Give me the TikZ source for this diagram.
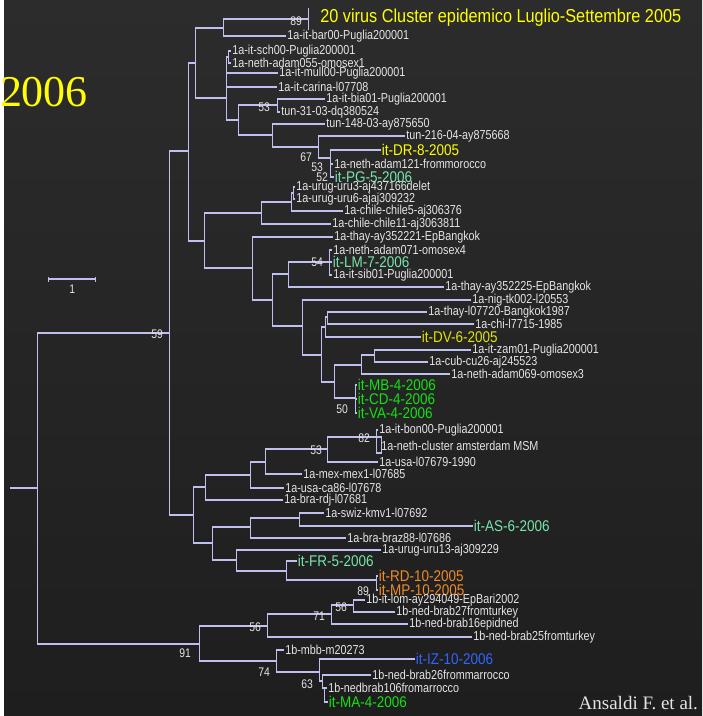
\documentclass[tikz,border=0pt]{standalone}
\usepackage{fontspec}
\setmainfont{Liberation Sans}
\newfontfamily\labfont[FakeStretch=0.83]{Liberation Sans}
\newfontfamily\hifont[FakeStretch=0.87]{Liberation Sans}
\newfontfamily\yearfont{Liberation Serif}
\usetikzlibrary{arrows.meta, positioning, calc}
\definecolor{bgtop}{RGB}{44,44,44}
\definecolor{bgbot}{RGB}{30,30,30}
\definecolor{branch}{RGB}{192,192,240}
\definecolor{labgray}{RGB}{228,228,228}
\definecolor{hiyellow}{RGB}{255,255,0}
\definecolor{dvyellow}{RGB}{228,228,0}
\definecolor{aqua}{RGB}{120,230,170}
\definecolor{hgreen}{RGB}{20,225,20}
\definecolor{horange}{RGB}{240,140,40}
\definecolor{hblue}{RGB}{50,100,255}
\tikzset{
  br/.style={draw=branch, line width=1.2pt},
  lab/.style={anchor=west, inner sep=1pt, text=labgray,
    font=\labfont\fontsize{13}{14}\selectfont},
  hilab/.style={lab, inner sep=0.5pt, font=\hifont\fontsize{15.5}{16}\selectfont},
  bs/.style={inner sep=0pt, text=labgray, font=\labfont\fontsize{12.5}{13}\selectfont},
}

\begin{document}
\begin{tikzpicture}[x=1pt, y=-1pt]
  \fill[top color=bgtop, bottom color=bgbot] (0,0) rectangle (698,716);

  % internal nodes
  \coordinate (root0) at (6,488);
  \coordinate (r) at (33,488);
  \coordinate (nA) at (165,333);
  \coordinate (nB) at (184,151);
  \coordinate (nC) at (191,63);
  \coordinate (nD) at (219,28);
  \coordinate (nE) at (222,98);
  \coordinate (nE2) at (224,57);
  \coordinate (nF) at (234,120);
  \coordinate (nG) at (273,105);
  \coordinate (nH) at (268,135);
  \coordinate (nI) at (314,147);
  \coordinate (nJ) at (326,158);
  \coordinate (nK) at (200,241);
  \coordinate (nL) at (257,213);
  \coordinate (nM) at (287,202);
  \coordinate (nM2) at (289,193);
  \coordinate (nN) at (248,268);
  \coordinate (nO) at (268,300);
  \coordinate (nP) at (284,274);
  \coordinate (nP2) at (325,262);
  \coordinate (nQ) at (298,326);
  \coordinate (nR) at (317,355);
  \coordinate (nS) at (321,327);
  \coordinate (nS2) at (323,317);
  \coordinate (nT) at (330,382);
  \coordinate (nU) at (357,365);
  \coordinate (nW) at (370,355);
  \coordinate (nV) at (351,398);
  \coordinate (nX) at (189,515);
  \coordinate (nY) at (201,487);
  \coordinate (nZ) at (246,475);
  \coordinate (nAA) at (261,462);
  \coordinate (nBB) at (323,449);
  \coordinate (nCC) at (372,437);
  \coordinate (dd1) at (377,437);
  \coordinate (dd2) at (377,453);
  \coordinate (nEE) at (208,543);
  \coordinate (nFF) at (246,527);
  \coordinate (nGG) at (295,518);
  \coordinate (nHH) at (232,560);
  \coordinate (nII) at (282,571);
  \coordinate (nJJ) at (372,580);
  \coordinate (nKK) at (195,644);
  \coordinate (nLL) at (263,626);
  \coordinate (nMM) at (327,614);
  \coordinate (nNN) at (349,605);
  \coordinate (nOO) at (272,661);
  \coordinate (nPP) at (315,672);
  \coordinate (nQQ) at (318,681);
  \coordinate (nRR) at (320,688);
  \coordinate (clu) at (304,19);
  \coordinate (clut) at (304,8);
  \coordinate (club) at (304,30);

  % leaves
  \node[lab] (bar00) at (282,36) {1a-it-bar00-Puglia200001};
  \node[lab] (sch00) at (227,51) {1a-it-sch00-Puglia200001};
  \node[lab] (adam055) at (227,63) {1a-neth-adam055-omosex1};
  \node[lab] (mull00) at (274,73) {1a-it-mull00-Puglia200001};
  \node[lab] (carina) at (273,87) {1a-it-carina-l07708};
  \node[lab] (bia01) at (321,99) {1a-it-bia01-Puglia200001};
  \node[lab] (tun31) at (276,112) {tun-31-03-dq380524};
  \node[lab] (tun148) at (321,124) {tun-148-03-ay875650};
  \node[lab] (tun216) at (401,136) {tun-216-04-ay875668};
  \node[hilab, text=hiyellow] (dr8) at (377,150) {it-DR-8-2005};
  \node[lab] (adam121) at (329,164) {1a-neth-adam121-frommorocco};
  \node[hilab, text=aqua] (pg5) at (330,177) {it-PG-5-2006};
  \node[lab] (uru3) at (291,187) {1a-urug-uru3-aj437166delet};
  \node[lab] (uru6) at (291,199) {1a-urug-uru6-ajaj309232};
  \node[lab] (chile5) at (339,211) {1a-chile-chile5-aj306376};
  \node[lab] (chile11) at (327,224) {1a-chile-chile11-aj3063811};
  \node[lab] (thay221) at (329,237) {1a-thay-ay352221-EpBangkok};
  \node[lab] (adam071) at (328,250) {1a-neth-adam071-omosex4};
  \node[hilab, text=aqua] (lm7) at (328,262) {it-LM-7-2006};
  \node[lab] (sib01) at (328,275) {1a-it-sib01-Puglia200001};
  \node[lab] (thay225) at (440,287) {1a-thay-ay352225-EpBangkok};
  \node[lab] (nig) at (467,300) {1a-nig-tk002-l20553};
  \node[lab] (thay720) at (423,312) {1a-thay-l07720-Bangkok1987};
  \node[lab] (chi) at (470,324) {1a-chi-l7715-1985};
  \node[hilab, text=dvyellow] (dv6) at (417,337) {it-DV-6-2005};
  \node[lab] (zam01) at (467,350) {1a-it-zam01-Puglia200001};
  \node[lab] (cub) at (424,362) {1a-cub-cu26-aj245523};
  \node[lab] (adam069) at (446,374) {1a-neth-adam069-omosex3};
  \node[hilab, text=hgreen] (mb4) at (353,385) {it-MB-4-2006};
  \node[hilab, text=hgreen] (cd4) at (353,399) {it-CD-4-2006};
  \node[hilab, text=hgreen] (va4) at (353,413) {it-VA-4-2006};
  \node[lab] (bon00) at (374,430) {1a-it-bon00-Puglia200001};
  \node[lab] (msm) at (376,446) {1a-neth-cluster amsterdam MSM};
  \node[lab] (usa79) at (374,462) {1a-usa-l07679-1990};
  \node[lab] (mex) at (298,474) {1a-mex-mex1-l07685};
  \node[lab] (ca86) at (280,488) {1a-usa-ca86-l07678};
  \node[lab] (rdj) at (279,500) {1a-bra-rdj-l07681};
  \node[lab] (swiz) at (320,513) {1a-swiz-kmv1-l07692};
  \node[hilab, text=aqua] (as6) at (469,526) {it-AS-6-2006};
  \node[lab] (braz88) at (342,538) {1a-bra-braz88-l07686};
  \node[lab] (uru13) at (377,550) {1a-urug-uru13-aj309229};
  \node[hilab, text=aqua] (fr5) at (293,561) {it-FR-5-2006};
  \node[hilab, text=horange] (rd10) at (374,576) {it-RD-10-2005};
  \node[hilab, text=horange] (mp10) at (374,590) {it-MP-10-2005};
  \node[lab] (lom) at (361,600) {1b-it-lom-ay294049-EpBari2002};
  \node[lab] (brab27) at (391,612) {1b-ned-brab27fromturkey};
  \node[lab] (brab16) at (404,624) {1b-ned-brab16epidned};
  \node[lab] (brab25) at (468,637) {1b-ned-brab25fromturkey};
  \node[lab] (mbb) at (280,650) {1b-mbb-m20273};
  \node[hilab, text=hblue] (iz10) at (411,659) {it-IZ-10-2006};
  \node[lab] (brab26) at (367,675) {1b-ned-brab26frommarrocco};
  \node[lab] (nb106) at (323,688) {1b-nedbrab106fromarrocco};
  \node[hilab, text=hgreen] (ma4) at (324,702) {it-MA-4-2006};

  % branches
  \draw[br] (root0) -- (r);
  \draw[br] (r) |- (nA);
  \draw[br] (r) |- (nKK);
  \draw[br] (nA) |- (nB);
  \draw[br] (nA) |- (nX);
  \draw[br] (nB) |- (nC);
  \draw[br] (nB) |- (nK);
  \draw[br] (nC) |- (nD);
  \draw[br] (nC) |- (nE);
  \draw[br] (nD) |- (clu);
  \draw[br] (clut) -- (club);
  \draw[br] (nD) |- (bar00.west);
  \draw[br] (nE) |- (nE2);
  \draw[br] (nE2) |- (sch00.west);
  \draw[br] (nE2) |- (adam055.west);
  \draw[br] (nE) |- (mull00.west);
  \draw[br] (nE) |- (carina.west);
  \draw[br] (nE) |- (nF);
  \draw[br] (nF) |- (nG);
  \draw[br] (nF) |- (nH);
  \draw[br] (nG) |- (bia01.west);
  \draw[br] (nG) |- (tun31.west);
  \draw[br] (nH) |- (tun148.west);
  \draw[br] (nH) |- (nI);
  \draw[br] (nI) |- (tun216.west);
  \draw[br] (nI) |- (nJ);
  \draw[br] (nJ) |- (dr8.west);
  \draw[br] (nJ) |- (adam121.west);
  \draw[br] (nJ) |- (pg5.west);
  \draw[br] (nK) |- (nL);
  \draw[br] (nK) |- (nN);
  \draw[br] (nL) |- (nM);
  \draw[br] (nL) |- (chile11.west);
  \draw[br] (nM) |- (nM2);
  \draw[br] (nM2) |- (uru3.west);
  \draw[br] (nM2) |- (uru6.west);
  \draw[br] (nM) |- (chile5.west);
  \draw[br] (nN) |- (thay221.west);
  \draw[br] (nN) |- (nO);
  \draw[br] (nO) |- (nP);
  \draw[br] (nO) |- (nQ);
  \draw[br] (nP) |- (nP2);
  \draw[br] (nP) |- (thay225.west);
  \draw[br] (nP2) |- (adam071.west);
  \draw[br] (nP2) |- (lm7.west);
  \draw[br] (nP2) |- (sib01.west);
  \draw[br] (nQ) |- (nig.west);
  \draw[br] (nQ) |- (nR);
  \draw[br] (nR) |- (nS);
  \draw[br] (nR) |- (nT);
  \draw[br] (nS) |- (nS2);
  \draw[br] (nS) |- (dv6.west);
  \draw[br] (nS2) |- (thay720.west);
  \draw[br] (nS2) |- (chi.west);
  \draw[br] (nT) |- (nU);
  \draw[br] (nT) |- (nV);
  \draw[br] (nU) |- (nW);
  \draw[br] (nU) |- (adam069.west);
  \draw[br] (nW) |- (zam01.west);
  \draw[br] (nW) |- (cub.west);
  \draw[br] (nV) |- (mb4.west);
  \draw[br] (nV) |- (cd4.west);
  \draw[br] (nV) |- (va4.west);
  \draw[br] (nX) |- (nY);
  \draw[br] (nX) |- (nEE);
  \draw[br] (nY) |- (nZ);
  \draw[br] (nY) |- (rdj.west);
  \draw[br] (nZ) |- (nAA);
  \draw[br] (nZ) |- (ca86.west);
  \draw[br] (nAA) |- (nBB);
  \draw[br] (nAA) |- (mex.west);
  \draw[br] (nBB) |- (nCC);
  \draw[br] (nBB) |- (usa79.west);
  \draw[br] (nCC) |- (bon00.west);
  \draw[br] (nCC) -- (dd1) -- (dd2) -| (nCC);
  \draw[br] (nEE) |- (nFF);
  \draw[br] (nEE) |- (nHH);
  \draw[br] (nFF) |- (nGG);
  \draw[br] (nFF) |- (braz88.west);
  \draw[br] (nGG) |- (swiz.west);
  \draw[br] (nGG) |- (as6.west);
  \draw[br] (nHH) |- (uru13.west);
  \draw[br] (nHH) |- (nII);
  \draw[br] (nII) |- (fr5.west);
  \draw[br] (nII) |- (nJJ);
  \draw[br] (nJJ) |- (rd10.west);
  \draw[br] (nJJ) |- (mp10.west);
  \draw[br] (nKK) |- (nLL);
  \draw[br] (nKK) |- (nOO);
  \draw[br] (nLL) |- (nMM);
  \draw[br] (nLL) |- (brab25.west);
  \draw[br] (nMM) |- (nNN);
  \draw[br] (nMM) |- (brab16.west);
  \draw[br] (nNN) |- (lom.west);
  \draw[br] (nNN) |- (brab27.west);
  \draw[br] (nOO) |- (mbb.west);
  \draw[br] (nOO) |- (nPP);
  \draw[br] (nPP) |- (iz10.west);
  \draw[br] (nPP) |- (nQQ);
  \draw[br] (nQQ) |- (brab26.west);
  \draw[br] (nQQ) |- (nRR);
  \draw[br] (nRR) |- (nb106.west);
  \draw[br] (nRR) |- (ma4.west);

  % bootstrap values
  \node[bs] (b89a) at (292,21) {89};
  \node[bs] (b53a) at (260,107) {53};
  \node[bs] (b67) at (302,157) {67};
  \node[bs] (b53b) at (313,167) {53};
  \node[bs] (b52) at (318,177) {52};
  \node[bs] (b54) at (313,262) {54};
  \node[bs] (b50) at (338,409) {50};
  \node[bs] (b82) at (360,438) {82};
  \node[bs] (b53c) at (312,450) {53};
  \node[bs] (b89b) at (359,591) {89};
  \node[bs] (b59) at (153,334) {59};
  \node[bs] (b91) at (181,653) {91};
  \node[bs] (b56a) at (251,627) {56};
  \node[bs] (b71) at (315,616) {71};
  \node[bs] (b56b) at (337,607) {56};
  \node[bs] (b74) at (260,672) {74};
  \node[bs] (b63) at (303,684) {63};

  % scale bar, titles
  \coordinate (sb1) at (44,279);
  \coordinate (sb2) at (92,279);
  \draw[br, {Bar[width=5pt]}-{Bar[width=5pt]}] (sb1) -- (sb2);
  \node[bs, below=6pt of $(sb1)!0.5!(sb2)$] (sbl) {1};
  \node[anchor=west, inner sep=0pt, text=hiyellow,
    font=\hifont\fontsize{18.7}{20}\selectfont] (title) at (316,18)
    {20 virus Cluster epidemico Luglio-Settembre 2005};
  \node[anchor=east, inner sep=0pt, text=hiyellow,
    font=\yearfont\fontsize{44}{46}\selectfont] (year) at (84,92) {2006};
  \node[anchor=east, inner sep=0pt, text=labgray,
    font=\yearfont\fontsize{19}{20}\selectfont] (cite) at (694,703) {Ansaldi F. et al.};
\end{tikzpicture}
\end{document}
